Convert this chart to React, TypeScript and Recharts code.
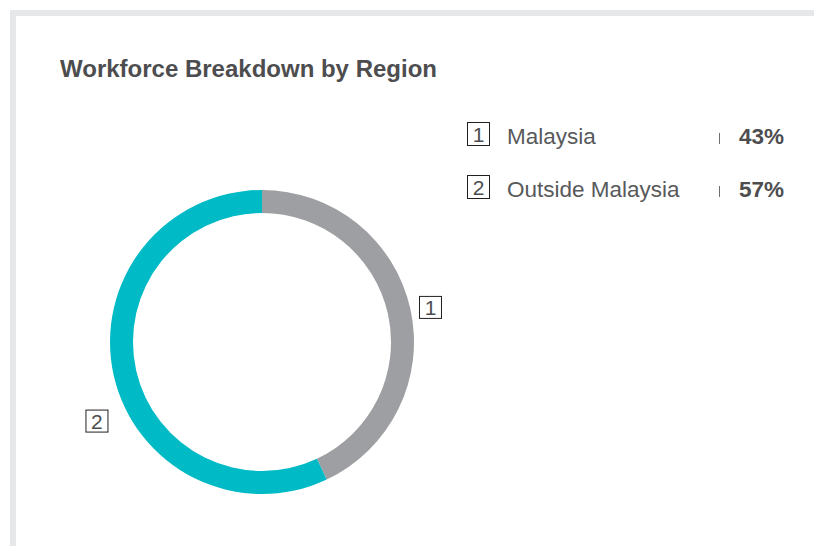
import React from 'react';
import { PieChart, Pie, Cell } from 'recharts';

// Workforce split by region (percent)
const REGIONS = ['Malaysia', 'Outside Malaysia'];
const SHARES = [43, 57];
const COLORS = ['#9d9fa2', '#00bac6'];

// Nudges for the numbered boxes around the ring (deg, px beyond outer radius)
const LABEL_SHIFT = [
  { angle: -1, gap: 20 },
  { angle: 13, gap: 31 },
];

const FONT = '"Liberation Sans", Arial, Helvetica, sans-serif';
const TEXT = '#58595b';

const chartData = REGIONS.map((name, i) => ({ name, value: SHARES[i] }));

const RAD = Math.PI / 180;

// Numbered square next to each slice
const renderLabel = (props: any) => {
  const { cx, cy, midAngle, outerRadius, index } = props;
  const shift = LABEL_SHIFT[index] || { angle: 0, gap: 20 };
  const a = (midAngle + shift.angle) * RAD;
  const r = outerRadius + shift.gap;
  const x = cx + r * Math.cos(-a);
  const y = cy + r * Math.sin(-a);
  return (
    <g key={`lbl-${index}`}>
      <rect x={x - 11} y={y - 11} width={22} height={22} fill="none" stroke="#231f20" strokeWidth={1} />
      <text
        x={x}
        y={y + 7.5}
        textAnchor="middle"
        fontSize={21}
        fontFamily={FONT}
        fill="#4d4d4f"
      >
        {index + 1}
      </text>
    </g>
  );
};

const App: React.FC = () => {
  return (
    <div
      style={{
        position: 'absolute',
        left: 0,
        top: 0,
        width: 814,
        height: 546,
        overflow: 'hidden',
        background: '#fff',
        fontFamily: FONT,
      }}
    >
      {/* card frame */}
      <div
        style={{
          position: 'absolute',
          left: 10,
          top: 10,
          width: 900,
          height: 600,
          borderTop: '6px solid #e6e7e8',
          borderLeft: '6px solid #e6e7e8',
        }}
      />

      <div
        style={{
          position: 'absolute',
          left: 60,
          top: 57,
          fontSize: 24,
          lineHeight: '24px',
          fontWeight: 'bold',
          color: '#4d4d4f',
          whiteSpace: 'nowrap',
        }}
      >
        Workforce Breakdown by Region
      </div>

      <div style={{ position: 'absolute', left: 0, top: 0 }}>
        <PieChart width={814} height={546} margin={{ top: 0, right: 0, bottom: 0, left: 0 }}>
          <Pie
            data={chartData}
            dataKey="value"
            nameKey="name"
            cx={262}
            cy={342}
            innerRadius={129}
            outerRadius={152}
            startAngle={90}
            endAngle={-270}
            stroke="none"
            label={renderLabel}
            labelLine={false}
            isAnimationActive={false}
          >
            {chartData.map((_d, i) => (
              <Cell key={`cell-${i}`} fill={COLORS[i]} />
            ))}
          </Pie>
        </PieChart>
      </div>

      {/* legend */}
      {REGIONS.map((name, i) => {
        const top = 122 + i * 53;
        return (
          <React.Fragment key={name}>
            <div
              style={{
                position: 'absolute',
                left: 467,
                top,
                width: 21,
                height: 22,
                border: '1px solid #231f20',
                fontSize: 21,
                lineHeight: '23px',
                textAlign: 'center',
                color: '#4d4d4f',
              }}
            >
              {i + 1}
            </div>
            <div
              style={{
                position: 'absolute',
                left: 507,
                top: top + 4,
                fontSize: 22.5,
                lineHeight: '22px',
                color: TEXT,
                whiteSpace: 'nowrap',
              }}
            >
              {name}
            </div>
            <div
              style={{
                position: 'absolute',
                left: 719,
                top: top + 11,
                width: 1,
                height: 11,
                background: '#6d6e71',
              }}
            />
            <div
              style={{
                position: 'absolute',
                left: 739,
                top: top + 4,
                fontSize: 22.5,
                lineHeight: '22px',
                fontWeight: 'bold',
                color: '#4d4d4f',
                whiteSpace: 'nowrap',
              }}
            >
              {SHARES[i]}%
            </div>
          </React.Fragment>
        );
      })}
    </div>
  );
};

export default App;
